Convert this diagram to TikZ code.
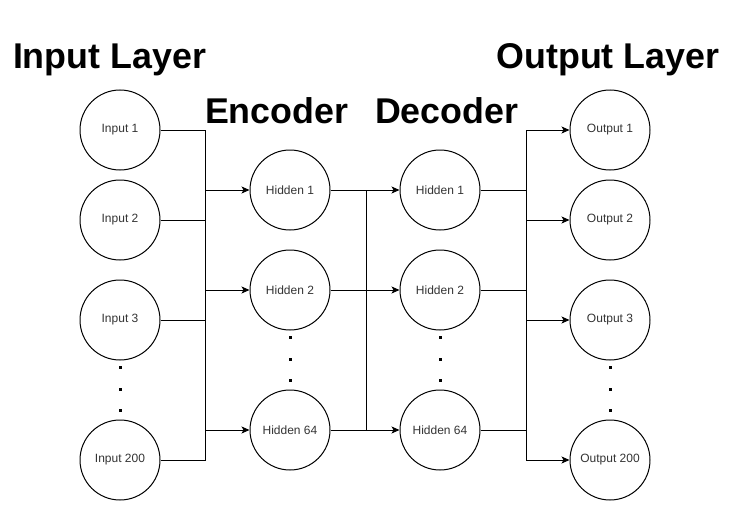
\documentclass[tikz,border=0pt]{standalone}
\usepackage{fontspec}
\setmainfont{Liberation Sans}
\usetikzlibrary{arrows.meta}
\tikzstyle{neuron}=[circle, draw, line width=1pt, inner sep=0pt, minimum size=80pt, text=black!80, font=\fontsize{12}{14}\selectfont]
\tikzstyle{layer}=[anchor=base west, inner sep=0pt, font=\fontsize{35.8}{40}\selectfont\bfseries]
\newcommand{\neuron}{\node[neuron]}

\begin{document}
\begin{tikzpicture}[x=1pt, y=-1pt, line width=1pt,
    every edge/.style={draw, -{Stealth[length=8pt, width=7pt, inset=2pt]}}
]
\useasboundingbox (0,0) rectangle (741,511);
% titles
\node[layer] (tin) at (12.5,68) {Input Layer};
\node[layer] (tenc) at (204.5,123) {Encoder};
\node[layer] (tdec) at (374.5,123) {Decoder};
\node[layer] (tout) at (496,68) {Output Layer};
% input layer
\neuron (I1) at (120,130) {Input 1};
\neuron (I2) at (120,220) {Input 2};
\neuron (I3) at (120,320) {Input 3};
\neuron (I200) at (120,460) {Input 200};
% encoder
\neuron (E1) at (290,190) {Hidden 1};
\neuron (E2) at (290,290) {Hidden 2};
\neuron (E64) at (290,430) {Hidden 64};
% decoder
\neuron (D1) at (440,190) {Hidden 1};
\neuron (D2) at (440,290) {Hidden 2};
\neuron (D64) at (440,430) {Hidden 64};
% output layer
\neuron (O1) at (610,130) {Output 1};
\neuron (O2) at (610,220) {Output 2};
\neuron (O3) at (610,320) {Output 3};
\neuron (O200) at (610,460) {Output 200};
% dots
\foreach \y in {367,389,410} {
  \fill (118.5,\y-1.5) rectangle ++(3,3);
  \fill (608.5,\y-1.5) rectangle ++(3,3);
}
\foreach \y in {337,359,380} {
  \fill (288.5,\y-1.5) rectangle ++(3,3);
  \fill (438.5,\y-1.5) rectangle ++(3,3);
}
% buses
\coordinate (ia) at (205,130);
\coordinate (ib) at (205,460);
\coordinate (mid) at (366,0);
\coordinate (oa) at (526,130);
\coordinate (ob) at (526,460);
\draw (I1) -- (ia) -- (ib) -- (I200);
\draw (I2) -- (I2 -| ia);
\draw (I3) -- (I3 -| ia);
\draw (E1 -| mid) -- (E64 -| mid);
\draw (D1) -- (D1 -| oa);
\draw (D2) -- (D2 -| oa);
\draw (D64) -- (D64 -| oa);
\draw (oa) -- (ob);
\path
(E1 -| ia) edge (E1)
(E2 -| ia) edge (E2)
(E64 -| ia) edge (E64)
(E1) edge (D1)
(E2) edge (D2)
(E64) edge (D64)
(oa) edge (O1)
(O2 -| oa) edge (O2)
(O3 -| oa) edge (O3)
(ob) edge (O200)
;
\end{tikzpicture}
\end{document}
